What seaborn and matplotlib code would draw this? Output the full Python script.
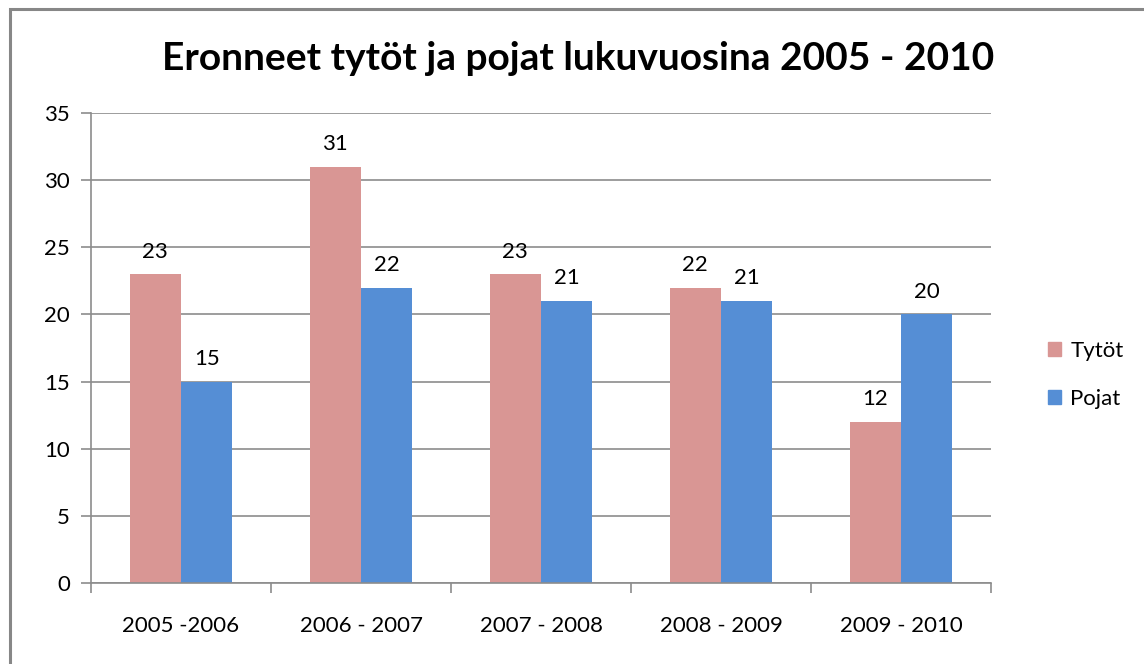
import matplotlib
matplotlib.use("Agg")
import matplotlib.pyplot as plt
import matplotlib.patches as mpatches
import pandas as pd
import seaborn as sns

# data
years = ["2005 -2006", "2006 - 2007", "2007 - 2008", "2008 - 2009", "2009 - 2010"]
tytot = [23, 31, 23, 22, 12]
pojat = [15, 22, 21, 21, 20]
series = ["Tytöt", "Pojat"]
colors = ["#D99694", "#558ED5"]

df = pd.DataFrame({
    "vuosi": years * 2,
    "ryhma": [series[0]] * len(years) + [series[1]] * len(years),
    "arvo": tytot + pojat,
})

sns.set_style("white")
plt.rcParams["font.family"] = ["Lato", "DejaVu Sans"]
plt.rcParams["text.color"] = "black"
plt.rcParams["xtick.color"] = "black"
plt.rcParams["ytick.color"] = "black"

fig = plt.figure(figsize=(11.44, 6.64), dpi=100)
ax = fig.add_axes([91 / 1144, 1 - 583 / 664, 900 / 1144, 470 / 664])

sns.barplot(data=df, x="vuosi", y="arvo", hue="ryhma", palette=colors,
            width=0.57, saturation=1, ax=ax, legend=False, zorder=2, linewidth=0)

# value labels
for cont in ax.containers:
    ax.bar_label(cont, padding=9, fontsize=16, color="black")

ax.set_ylim(0, 35)
ax.set_xlim(-0.5, len(years) - 0.5)
ax.set_yticks(range(0, 36, 5))
ax.yaxis.grid(True, color="#8c8c8c", linewidth=1.2, zorder=0)
ax.set_axisbelow(True)
ax.set_xlabel("")
ax.set_ylabel("")

for s in ["top", "right"]:
    ax.spines[s].set_visible(False)
for s in ["left", "bottom"]:
    ax.spines[s].set_color("#8c8c8c")
    ax.spines[s].set_linewidth(1.2)

ax.tick_params(axis="y", left=True, length=7, color="#8c8c8c", labelcolor="black",
               width=1.2, labelsize=16, pad=8)
ax.tick_params(axis="x", which="major", length=0, labelsize=16, labelcolor="black", pad=24)
ax.set_xticks([i - 0.5 for i in range(len(years) + 1)], minor=True)
ax.tick_params(axis="x", which="minor", bottom=True, length=7, color="#8c8c8c", width=1.2)

# legend
handles = [mpatches.Patch(color=c, label=l) for c, l in zip(colors, series)]
fig.legend(handles=handles, loc="center left", bbox_to_anchor=(1028 / 1144, 1 - 375 / 664),
           frameon=False, fontsize=16, handlelength=0.6, handleheight=0.6,
           handletextpad=0.4, labelspacing=1.25, labelcolor="black")

fig.suptitle("Eronneet tytöt ja pojat lukuvuosina 2005 - 2010", x=578 / 1144,
             y=1 - 58 / 664, va="center", fontsize=28, fontweight="bold", color="black")

# outer frame
fig.patches.append(mpatches.Rectangle((10 / 1144, -0.05), 1.2, 1 - 9 / 664 + 0.05,
                                      transform=fig.transFigure, fill=False,
                                      edgecolor="#878787", linewidth=2.2))

fig.savefig("out.png", dpi=100)
